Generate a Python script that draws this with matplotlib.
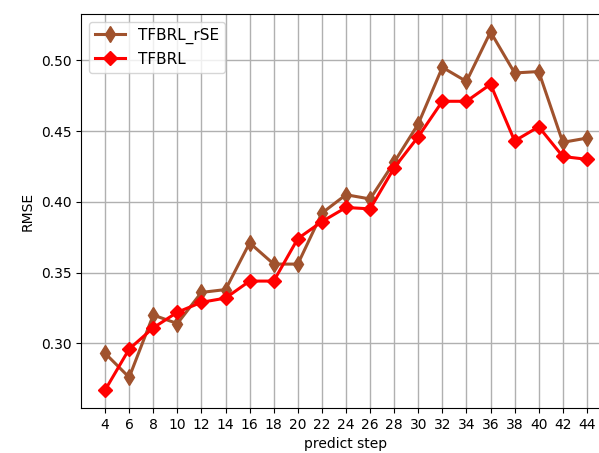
import matplotlib
matplotlib.use('Agg')
import matplotlib.pyplot as plt

steps = [4, 6, 8, 10, 12, 14, 16, 18, 20, 22, 24, 26, 28, 30, 32, 34, 36, 38, 40, 42, 44]
rmse_rse = [0.293, 0.276, 0.320, 0.314, 0.336, 0.338, 0.371, 0.356, 0.356, 0.392, 0.405,
            0.402, 0.428, 0.455, 0.495, 0.485, 0.520, 0.491, 0.492, 0.442, 0.445]
rmse_base = [0.267, 0.296, 0.311, 0.322, 0.329, 0.332, 0.344, 0.344, 0.374, 0.386, 0.396,
             0.395, 0.424, 0.446, 0.471, 0.471, 0.483, 0.443, 0.453, 0.432, 0.430]

W, H = 599, 453
fig = plt.figure(figsize=(W / 100, H / 100), dpi=100)
# axes runs past the right edge like the cropped original
ax = fig.add_axes([81 / W, (H - 408) / H, 530 / W, 394 / H])

ax.plot(steps, rmse_rse, color='#A0522D', marker='d', markersize=8, linewidth=2.2,
        label='TFBRL_rSE')
ax.plot(steps, rmse_base, color='red', marker='D', markersize=7, linewidth=2.2,
        label='TFBRL')

ax.set_xticks(steps)
ax.set_xlim(2, 46)
ax.set_yticks([0.30, 0.35, 0.40, 0.45, 0.50])
ax.grid(True, color='#b0b0b0', linewidth=1)
ax.set_axisbelow(True)
ax.tick_params(labelsize=10)
ax.set_xlabel('predict step', fontsize=10)
ax.set_ylabel('RMSE', fontsize=10)
ax.legend(loc='upper left', fontsize=11)

fig.savefig('out.png', dpi=100)
